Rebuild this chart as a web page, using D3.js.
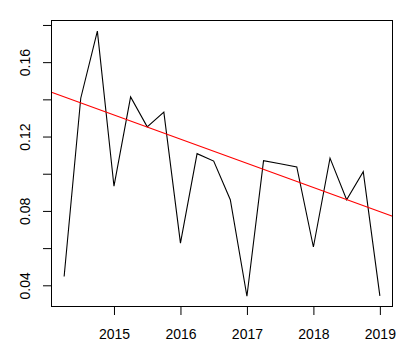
<!DOCTYPE html>
<html><head><meta charset="utf-8">
<script src="https://cdn.jsdelivr.net/npm/d3@7"></script>
<style>body{margin:0;background:#fff}svg{display:block}text{font-family:"Liberation Sans",Arial,sans-serif;font-size:14px;fill:#000}</style>
</head><body><svg id="c" width="415" height="359"></svg>
<script>
const times = [2014.25,2014.5,2014.75,2015,2015.25,2015.5,2015.75,2016,2016.25,2016.5,2016.75,2017,2017.25,2017.5,2017.75,2018,2018.25,2018.5,2018.75,2019];
const values = [0.0447,0.1406,0.1767,0.0933,0.1413,0.1252,0.1331,0.0627,0.1108,0.1068,0.0860,0.0341,0.1070,0.1054,0.1037,0.0606,0.1084,0.0860,0.1011,0.0343];
const xTicks = [2015,2016,2017,2018,2019];
const yTicks = [0.04,0.06,0.08,0.10,0.12,0.14,0.16,0.18];
const yLabels = [0.04,0.08,0.12,0.16];
const trendIntercept2015 = 0.1316; // fitted value at 2015
const trendSlope = -0.0130;        // per year

const L=51.5,R=392.5,T=20.5,B=306.5;
const svg=d3.select("#c");
const xr=[2014.06,2019.19], yr=[0.0286,0.1824];
const x=d3.scaleLinear().domain(xr).range([L,R]);
const y=d3.scaleLinear().domain(yr).range([B,T]);

svg.append("defs").append("clipPath").attr("id","clip").append("rect").attr("x",L).attr("y",T).attr("width",R-L).attr("height",B-T);

const line=d3.line().x((d,i)=>x(times[i])).y(d=>y(d));
svg.append("path").datum(values).attr("d",line).attr("fill","none").attr("stroke","#000").attr("stroke-width",1.1).attr("clip-path","url(#clip)");

const tf=t=>trendIntercept2015+trendSlope*(t-2015);
svg.append("line").attr("x1",x(xr[0])).attr("x2",x(xr[1])).attr("y1",y(tf(xr[0]))).attr("y2",y(tf(xr[1])))
  .attr("stroke","#ff0000").attr("stroke-width",1.2).attr("clip-path","url(#clip)");

svg.append("rect").attr("x",L).attr("y",T).attr("width",R-L).attr("height",B-T).attr("fill","none").attr("stroke","#000").attr("stroke-width",1);

const xa=d3.axisBottom(x).tickValues(xTicks).tickSize(8.5).tickPadding(14).tickFormat(d3.format("d"));
const gx=svg.append("g").attr("transform",`translate(0,${B})`).call(xa);
gx.select(".domain").remove();
gx.selectAll("line").attr("stroke","#000");
gx.selectAll("text").attr("font-size",null).attr("font-family",null).attr("dy","0.71em");

const ya=d3.axisLeft(y).tickValues(yTicks).tickSize(8.5).tickFormat(d=>yLabels.some(v=>Math.abs(v-d)<1e-9)?d3.format(".2f")(d):"");
const gy=svg.append("g").attr("transform",`translate(${L},0)`).call(ya);
gy.select(".domain").remove();
gy.selectAll("line").attr("stroke","#000");
gy.selectAll("text").attr("font-size",null).attr("font-family",null)
  .attr("x",null).attr("dy",null).attr("text-anchor","middle")
  .attr("transform","translate(-21.5,0) rotate(-90)");
gy.selectAll(".tick text").attr("y",0).attr("dy","0em");
</script></body></html>
